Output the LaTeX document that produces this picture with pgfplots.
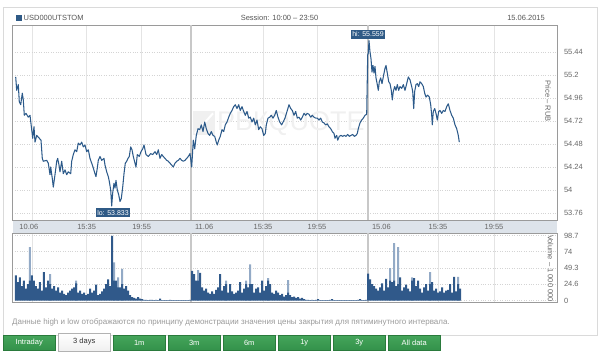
\documentclass[border=0pt]{standalone}
\usepackage{fontspec}
\setmainfont{Liberation Sans}
\usepackage{pgfplots}
\pgfplotsset{compat=1.18}
\definecolor{pline}{HTML}{2C5A8A}
\definecolor{dkblue}{HTML}{2F5A86}
\definecolor{vdark}{HTML}{30598A}
\definecolor{vlight}{HTML}{93AAC6}
\definecolor{txt}{HTML}{555555}
\definecolor{tickc}{HTML}{666666}
\definecolor{framec}{HTML}{9A9A9A}
\definecolor{stripc}{HTML}{DDE3EA}
\definecolor{gridv}{HTML}{E4E4E4}
\definecolor{gridh}{HTML}{D4D4D4}
\definecolor{sepc}{HTML}{C8C8C8}
\definecolor{panel}{HTML}{DADADA}
\definecolor{note}{HTML}{9A9A9A}
\definecolor{gtop}{HTML}{45A55B}
\definecolor{gbot}{HTML}{33914A}
\definecolor{gdraw}{HTML}{2A7A3C}
\definecolor{wm}{HTML}{F0F0F0}
\begin{document}
\begin{tikzpicture}[font=\fontsize{7.5}{9}\selectfont]
\path[use as bounding box] (0,0) rectangle (600pt,-357pt);
\draw[panel] (3pt,-7pt) rectangle (597pt,-335pt);
% header
\fill[dkblue] (16pt,-15pt) rectangle (22pt,-21pt);
\node[anchor=west, text=txt, inner sep=0] at (23.5pt,-18pt) {USD000UTSTOM};
\node[text=txt, inner sep=0] at (279.5pt,-18pt) {Session: 10:00 – 23:50};
\node[anchor=east, text=txt, inner sep=0] at (545pt,-17.5pt) {15.06.2015};
% date strip
\fill[stripc] (12.5pt,-220pt) rectangle (557pt,-233pt);
% price axis
\begin{axis}[
  at={(12.5pt,-220pt)}, anchor=south west, scale only axis,
  width=544.5pt, height=195pt,
  xmin=12.5, xmax=557, ymin=53.687, ymax=55.722,
  axis line style={framec},
  xtick={32,86.7,141.7,263,317,438,494}, xticklabels={},
  ytick={53.76,54,54.24,54.48,54.72,54.96,55.2,55.44},
  yticklabels={53.76,54,54.24,54.48,54.72,54.96,55.2,55.44},
  yticklabel pos=right,
  yticklabel style={text=tickc, xshift=3.5pt, font=\fontsize{7.5}{9}\selectfont},
  major tick length=0pt,
  xmajorgrids, ymajorgrids,
  x grid style={gridv, line width=0.8pt},
  y grid style={gridh, dotted, line width=0.8pt},
]
\fill[wm] (axis cs:193,54.57) rectangle (axis cs:215,54.82);
\draw[white, line width=2pt] (axis cs:195,54.59) -- (axis cs:213,54.80);
\node[anchor=west, text=wm, inner sep=0, font=\fontsize{27}{27}\selectfont] at (axis cs:217,54.695) {РБКQUOTE};
\draw[sepc, line width=2.5pt] (axis cs:191,53.687) -- (axis cs:191,55.722);
\draw[sepc, line width=2.5pt] (axis cs:368,53.687) -- (axis cs:368,55.722);
\addplot[pline, line width=1.05pt, line join=round] coordinates {
(15.7,55.18) (16.7,55.04) (18.3,55.10) (19.3,54.92) (20.7,54.89) (22.3,55.01) (23.3,54.94) (24.3,54.78) (26,54.80) (28.3,54.76) (30,54.78) (31.7,54.63) (32.7,54.54) (34,54.66) (35,54.50) (36.7,54.57) (39.3,54.54) (41,54.52) (42.3,54.33) (43.3,54.30) (46.7,54.31) (48.3,54.28) (50,54.16) (50.7,54.24) (52.3,54.12) (53.3,54.03) (55,54.16) (56.7,54.30) (57.7,54.33) (59,54.26) (60,54.19) (61.7,54.30) (63.3,54.17) (65,54.21) (66.7,54.16) (68.3,54.19) (70.7,54.17) (71.7,54.30) (73.3,54.37) (75,54.42) (76.7,54.40) (78.3,54.49) (80,54.47) (81.7,54.50) (83.3,54.45) (85,54.47) (86.7,54.40) (88.3,54.42) (90,54.33) (91.7,54.28) (93.3,54.23) (95,54.17) (96,54.14) (97.3,54.23) (98.3,54.31) (100,54.35) (101.7,54.31) (104,54.33) (105,54.26) (106.7,54.19) (108.3,54.14) (109.3,54.09) (110.7,54.00) (111.7,53.833) (112.7,53.97) (114,54.07) (115,54.02) (116,54.10) (117.3,54.00) (118.7,53.95) (120,53.88) (121.3,53.91) (122.7,54.03) (124,54.17) (125.3,54.28) (126.7,54.30) (128,54.33) (129.3,54.35) (130.7,54.45) (132,54.42) (133.3,54.35) (135,54.28) (136,54.24) (137.3,54.37) (139.3,54.35) (141,54.40) (142.7,54.43) (144,54.47) (146,54.37) (148.3,54.35) (150.7,54.38) (152.7,54.37) (155,54.40) (156.7,54.37) (158.3,54.42) (160,54.33) (161.7,54.37) (163.3,54.35) (165,54.33) (166.7,54.31) (168.3,54.30) (170,54.28) (171.7,54.26) (173.3,54.24) (175,54.28) (176.7,54.30) (178.3,54.31) (180,54.33) (181.7,54.31) (183.3,54.30) (185,54.31) (186.7,54.33) (188.3,54.35) (190,54.38) (191.7,54.24)
(193.3,54.52) (194.7,54.43) (196.3,54.57) (198,54.64) (199.7,54.63) (201.3,54.68) (203,54.61) (204.7,54.71) (206.3,54.64) (208,54.59) (209.7,54.57) (211.3,54.61) (213,54.57) (214.7,54.56) (216.3,54.50) (217.3,54.47) (218.7,54.52) (220.3,54.56) (222,54.63) (223.7,54.61) (225.3,54.68) (227,54.71) (228.7,54.76) (230.3,54.80) (232,54.83) (233.7,54.87) (235.3,54.89) (237,54.85) (238.7,54.89) (240.3,54.83) (242,54.87) (243.7,54.82) (245.3,54.78) (247,54.82) (248.7,54.75) (250.3,54.76) (252,54.71) (253.7,54.75) (255.3,54.68) (257,54.73) (258.7,54.63) (260.3,54.66) (262,54.64) (263.7,54.57) (265.3,54.59) (266.3,54.68) (268,54.75) (269.7,54.76) (271.3,54.78) (273,54.75) (274.7,54.78) (276.3,54.83) (278,54.76) (279.7,54.71) (281.7,54.68) (285,54.75) (287.3,54.83) (289,54.89) (290.7,54.85) (292.3,54.83) (294,54.78) (295.7,54.82) (297.3,54.75) (299,54.76) (300.7,54.73) (302.3,54.76) (304,54.80) (305.7,54.78) (307.3,54.80) (309,54.79) (310.7,54.76) (312.3,54.78) (314,54.76) (315.7,54.75) (317.3,54.75) (319,54.73) (320.7,54.75) (322.3,54.71) (324,54.70) (325.7,54.68) (327.3,54.69) (329,54.66) (330.7,54.64) (332.3,54.61) (334,54.59) (335,54.54) (336.7,54.57) (337.7,54.52) (339.3,54.56) (341,54.57) (342.7,54.56) (344.3,54.57) (346,54.56) (347.7,54.58) (349.3,54.56) (351,54.57) (352.7,54.58) (354.3,54.56) (356,54.57) (357.3,54.59) (358.3,54.64) (360,54.70) (361.7,54.73) (363.3,54.75) (365,54.78) (366.7,54.79)
(367.7,55.41) (368.3,55.43) (369,55.559) (370,55.44) (371,55.37) (372,55.23) (373,55.30) (374,55.22) (375,55.29) (376,55.17) (377.3,55.10) (378.3,55.04) (379.3,55.13) (380.7,55.17) (382,55.11) (383.3,55.18) (385,55.27) (386,55.30) (387.3,55.22) (388.7,55.13) (390,55.11) (391.3,55.04) (392.3,54.94) (393.3,55.03) (394.7,55.08) (396,55.04) (397.3,55.10) (398.7,55.04) (400,55.08) (401.7,55.06) (403.3,55.10) (405,55.04) (406.7,55.11) (408.3,55.18) (410,55.15) (411.7,55.08) (412.7,55.03) (413.7,54.85) (414.7,55.03) (416,55.10) (417.3,55.11) (418.7,55.08) (420,55.13) (421.7,55.11) (423.3,55.08) (424.7,55.01) (426,54.97) (427.7,54.99) (429.3,54.97) (430.7,54.89) (431.7,54.78) (432.3,54.68) (433.3,54.82) (434.7,54.85) (436,54.80) (437.3,54.73) (438.7,54.82) (440,54.83) (441.7,54.80) (443.3,54.83) (445,54.82) (446.7,54.87) (448.3,54.90) (450,54.83) (451.7,54.78) (453.3,54.75) (455,54.68) (456.7,54.64) (458.3,54.57) (459.3,54.50)
};
\node[fill=dkblue, text=white, inner sep=1.3pt, minimum height=9pt, font=\fontsize{7}{8}\selectfont] at (axis cs:113,53.765) {lo: 53.833};
\node[fill=dkblue, text=white, inner sep=1.3pt, minimum height=9pt, font=\fontsize{7}{8}\selectfont] at (axis cs:368,55.628) {hi: 55.559};
\node[rotate=-90, text=tickc, inner sep=0, font=\fontsize{7.5}{9}\selectfont] at (rel axis cs:0.9835,0.61) {Price – RUB};
\end{axis}
% volume axis
\begin{axis}[
  at={(12.5pt,-302pt)}, anchor=south west, scale only axis,
  width=544.5pt, height=69pt,
  xmin=12.5, xmax=557, ymin=-2.28, ymax=102.5,
  axis line style={framec},
  xtick={32,86.7,141.7,263,317,438,494},
  xticklabels={,15:35,19:55,15:35,19:55,15:35,19:55},
  xticklabel pos=upper,
  xticklabel style={text=tickc, font=\fontsize{7.5}{9}\selectfont, yshift=-0.5pt},
  extra x ticks={15.4,191,368},
  extra x tick labels={10.06,11.06,15.06},
  extra x tick style={xmajorgrids=false, xticklabel style={anchor=south west, xshift=0.5pt}},
  ytick={0,24.675,49.35,74.025,98.7},
  yticklabels={0,24.6,49.3,74,98.7},
  yticklabel pos=right,
  yticklabel style={text=tickc, xshift=3.5pt, font=\fontsize{7.5}{9}\selectfont},
  major tick length=0pt,
  xmajorgrids, ymajorgrids,
  x grid style={gridv, line width=0.8pt},
  y grid style={gridh, dotted, line width=0.8pt},
]
\draw[sepc, line width=2.5pt] (axis cs:191,-2.28) -- (axis cs:191,102.5);
\draw[sepc, line width=2.5pt] (axis cs:368,-2.28) -- (axis cs:368,102.5);
\addplot[ybar, bar width=2, bar shift=0pt, fill=vlight, draw=none] coordinates {
(30,81) (50,40) (76,30) (114,58) (118,35) (122,48)
(198,46) (226,30) (246,30) (250,55) (268,34) (288,31)
(390,49) (394,87) (398,81) (412,35) (430,43) (458,36)
};
\addplot[ybar, bar width=2, bar shift=0pt, fill=vdark, draw=none] coordinates {
(16,38) (18,28) (20,35) (22,22) (24,30) (26,18) (28,25) (30,30) (32,38) (34,30) (36,22) (38,18) (40,28) (42,15) (44,43) (46,20) (48,30) (50,25) (52,18) (54,22) (56,15) (58,20) (60,12) (62,15) (64,10) (66,8) (68,12) (70,15) (72,18) (74,20) (76,26) (78,12) (80,15) (82,10) (84,12) (86,8) (88,10) (90,18) (92,12) (94,15) (96,24) (98,8) (100,10) (102,14) (104,18) (106,25) (108,32) (110,22) (112,98) (114,30) (116,30) (118,20) (120,20) (122,25) (124,18) (126,22) (128,15) (130,8) (132,5) (134,4) (136,3) (138,5) (140,3) (142,2) (144,1) (146,1) (148,0.5) (150,1) (152,1) (154,0.5) (156,1) (158,0.5) (160,3) (162,0.5) (164,0.5) (166,0.5) (168,0.5) (170,1) (172,0.5) (174,0.5) (176,0.5) (178,0.5) (180,0.5) (182,0.5) (184,0.5) (186,0.5) (188,0.5) (190,1)
(192,45) (194,40) (196,30) (198,30) (200,42) (202,20) (204,15) (206,18) (208,12) (210,10) (212,14) (214,10) (216,16) (218,20) (220,40) (222,15) (224,22) (226,25) (228,12) (230,25) (232,14) (234,10) (236,12) (238,15) (240,28) (242,12) (244,18) (246,25) (248,20) (250,25) (252,25) (254,12) (256,18) (258,20) (260,12) (262,30) (264,15) (266,22) (268,30) (270,25) (272,12) (274,10) (276,15) (278,12) (280,8) (282,10) (284,6) (286,8) (288,12) (290,8) (292,5) (294,6) (296,4) (298,5) (300,3) (302,4) (304,2) (306,1) (308,1) (310,0.5) (312,1) (314,0.5) (316,1) (318,2) (320,0.5) (322,0.5) (324,0.5) (326,0.5) (328,0.5) (330,1) (332,2) (334,0.5) (336,0.5) (338,0.5) (340,0.5) (342,0.5) (344,0.5) (346,0.5) (348,0.5) (350,0.5) (352,0.5) (354,0.5) (356,0.5) (358,1) (360,2) (362,0.5) (364,0.5) (366,1)
(368,41) (370,32) (372,25) (374,22) (376,18) (378,15) (380,20) (382,26) (384,15) (386,33) (388,20) (390,30) (392,28) (394,30) (396,22) (398,25) (400,35) (402,15) (404,20) (406,24) (408,18) (410,14) (412,30) (414,34) (416,22) (418,30) (420,18) (422,12) (424,20) (426,25) (428,15) (430,25) (432,28) (434,15) (436,18) (438,12) (440,14) (442,20) (444,12) (446,15) (448,16) (450,25) (452,12) (454,36) (456,14) (458,25) (460,18)
};
\node[rotate=-90, text=tickc, inner sep=0, font=\fontsize{7.5}{9}\selectfont] at (rel axis cs:0.988,0.486) {Volume – 1 000 000};
\end{axis}
% note
\node[anchor=west, text=note, inner sep=0, font=\fontsize{8}{9}\selectfont] at (12pt,-322pt) {Данные high и low отображаются по принципу демонстрации значения цены закрытия для пятиминутного интервала.};
% buttons
\tikzset{btn/.style={minimum width=52.5pt, minimum height=15.5pt, inner sep=0, top color=gtop, bottom color=gbot, draw=gdraw, text=white}}
\node[btn] at (29.25pt,-342.75pt) {Intraday};
\node[minimum width=52.5pt, minimum height=18pt, inner sep=0, top color=white, bottom color=black!6, draw=black!30, text=black!80] at (84.25pt,-342pt) {3 days};
\node[btn] at (139.25pt,-342.75pt) {1m};
\node[btn] at (194.25pt,-342.75pt) {3m};
\node[btn] at (249.25pt,-342.75pt) {6m};
\node[btn] at (304.25pt,-342.75pt) {1y};
\node[btn] at (359.25pt,-342.75pt) {3y};
\node[btn] at (414.25pt,-342.75pt) {All data};
\end{tikzpicture}
\end{document}
